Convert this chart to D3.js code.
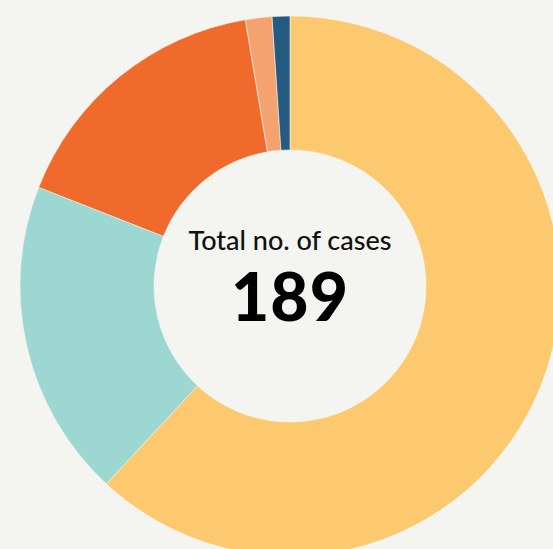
<!DOCTYPE html>
<html>
<head>
<meta charset="utf-8">
<script src="https://cdn.jsdelivr.net/npm/d3@7"></script>
<style>
  html, body { margin: 0; padding: 0; background: #f4f4f0; }
  svg { display: block; }
</style>
</head>
<body>
<div id="main"></div>
<script>
/* Define Size */
const width = 553, height = 549;

/* Define Data */
const categories = ["A", "B", "C", "D", "E"];
const cases = [117, 36, 31, 3, 2];
const colors = ["#fdc96f", "#9dd7d2", "#ef6a2b", "#f5a271", "#255b80"];
const totalLabel = "Total no. of cases";

const dataset = categories.map((c, i) => ({name: c, value: cases[i]}));
const total = d3.sum(cases);

const color = d3.scaleOrdinal().domain(categories).range(colors);

const svg = d3.select("#main").append("svg")
  .attr("width", width).attr("height", height);

const pie = d3.pie().sort(null).value(d => d.value);
const arc = d3.arc()
  .innerRadius(136)
  .outerRadius(270);

/* Draw the donut */
const mainG = svg.append("g")
  .attr("transform", "translate(290,286)");

mainG.selectAll("path")
  .data(pie(dataset))
  .enter()
  .append("path")
  .attr("d", arc)
  .attr("fill", d => color(d.data.name))
  .attr("stroke", "#f4f4f0")
  .attr("stroke-width", 0.6);

/* Center labels */
mainG.append("text")
  .attr("text-anchor", "middle")
  .attr("y", -36)
  .style("font-family", "Lato")
  .style("font-size", "27px")
  .style("font-weight", 500)
  .attr("fill", "#111")
  .text(totalLabel);

mainG.append("text")
  .attr("text-anchor", "middle")
  .attr("y", 35)
  .style("font-family", "Lato")
  .style("font-weight", 900)
  .style("font-size", "66px")
  .style("letter-spacing", "1px")
  .attr("fill", "#000")
  .text(total);
</script>
</body>
</html>
